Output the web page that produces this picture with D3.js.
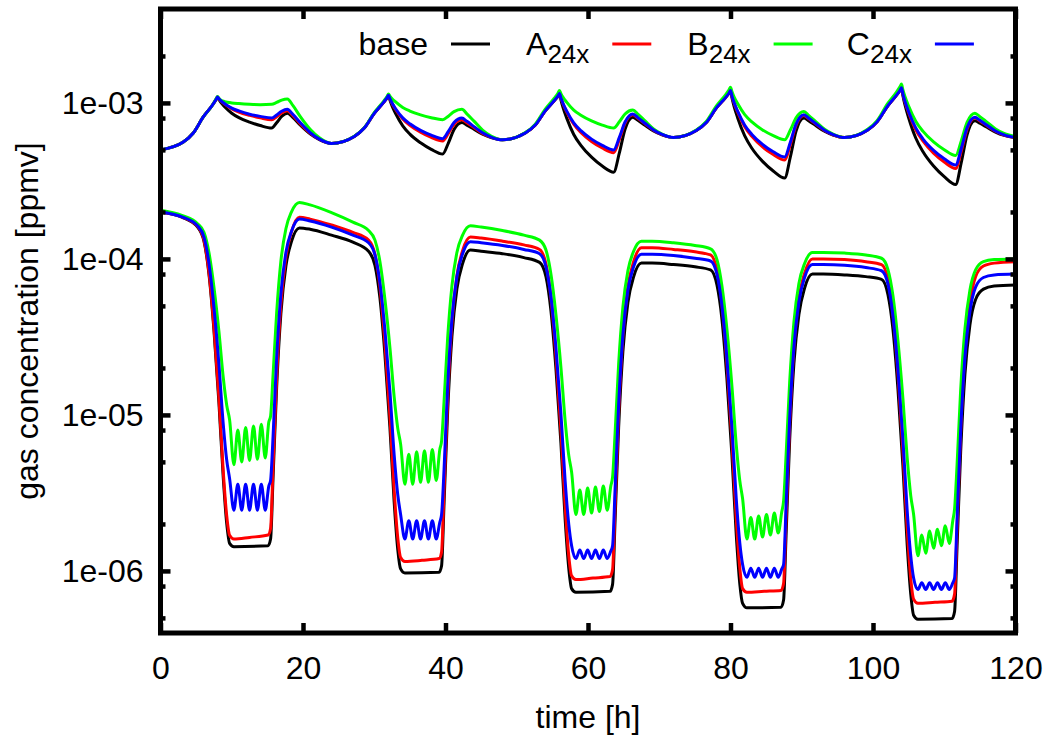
<!DOCTYPE html>
<html><head><meta charset="utf-8">
<script src="https://cdn.jsdelivr.net/npm/d3@7"></script>
<style>body{margin:0;background:#fff}svg{display:block}</style>
</head><body>
<svg id="chart" width="1050" height="736"></svg>
<script>
// ---------- data ----------
const legendNames = ["base", "A", "B", "C"];
const legendSubs = ["", "24x", "24x", "24x"];
const xTickValues = [0, 20, 40, 60, 80, 100, 120];
const yTickValues = [1e-6, 1e-5, 1e-4, 1e-3];
const yTickLabels = ["1e-06", "1e-05", "1e-04", "1e-03"];
const yMinorMantissas = [2, 5, 8];

// upper group (around 1e-3)
const baseUp = [[0,5.0e-4],[3.2,5.61e-4],[4.6,6.41e-4],[6.0,8.13e-4],[7.3,9.7e-4],[7.8,1.052e-3],[8.0,1.09e-3],[8.2,1.051e-3],[8.5,1.003e-3],[9.0,9.46e-4],[10.0,8.59e-4],[11.0,8.05e-4],[12.5,7.53e-4],[14.0,7.16e-4],[15.6,6.9e-4],[16.3,7.46e-4],[17.0,8.2e-4],[17.8,8.6e-4],[18.6,8.05e-4],[19.6,7.23e-4],[21.0,6.34e-4],[22.3,5.82e-4],
[24,5.5e-4],[27.2,6.1e-4],[28.6,6.9e-4],[30.0,8.57e-4],[31.3,1.007e-3],[31.8,1.081e-3],[32.0,1.12e-3],[32.2,1.044e-3],[32.5,9.57e-4],[33.0,8.55e-4],[34.0,7.13e-4],[35.0,6.31e-4],[36.5,5.55e-4],[38.0,5.04e-4],[39.6,4.7e-4],[40.4,5.53e-4],[41.2,6.76e-4],[42.3,7.5e-4],[43.0,7.21e-4],[44.0,6.78e-4],[45.2,6.3e-4],[46.4,6.0e-4],
[48,5.8e-4],[51.2,6.41e-4],[52.6,7.21e-4],[54.0,8.89e-4],[55.3,1.04e-3],[55.8,1.11e-3],[56.0,1.15e-3],[56.2,1.046e-3],[56.5,9.33e-4],[57.0,8.02e-4],[58.0,6.28e-4],[59.0,5.35e-4],[60.5,4.49e-4],[62.0,3.94e-4],[63.6,3.6e-4],[64.4,4.78e-4],[65.2,6.78e-4],[66.3,8.1e-4],[67.0,7.73e-4],[68.0,7.19e-4],[69.2,6.61e-4],[70.4,6.24e-4],
[72,6.0e-4],[75.2,6.65e-4],[76.6,7.48e-4],[78.0,9.25e-4],[79.3,1.082e-3],[79.8,1.158e-3],[80.0,1.2e-3],[80.2,1.081e-3],[80.5,9.51e-4],[81.0,8.04e-4],[82.0,6.14e-4],[83.0,5.12e-4],[84.5,4.22e-4],[86.0,3.66e-4],[87.6,3.3e-4],[88.4,4.5e-4],[89.2,6.59e-4],[90.3,8.0e-4],[91.0,7.66e-4],[92.0,7.14e-4],[93.2,6.58e-4],[94.4,6.22e-4],
[96,6.0e-4],[99.2,6.68e-4],[100.6,7.59e-4],[102.0,9.48e-4],[103.3,1.122e-3],[103.8,1.206e-3],[104.0,1.25e-3],[104.2,1.114e-3],[104.5,9.66e-4],[105.0,8.04e-4],[106.0,5.96e-4],[107.0,4.88e-4],[108.5,3.94e-4],[110.0,3.37e-4],[111.6,3.0e-4],[112.4,4.17e-4],[113.2,6.25e-4],[114.3,7.7e-4],[115.0,7.41e-4],[116.0,6.98e-4],[117.2,6.5e-4],[118.4,6.19e-4],[120,6.0e-4]];

const aUp = [[0,5.0e-4],[3.2,5.61e-4],[4.6,6.41e-4],[6.0,8.13e-4],[7.3,9.7e-4],[7.8,1.052e-3],[8.0,1.09e-3],[8.2,1.061e-3],[8.5,1.026e-3],[9.0,9.82e-4],[10.0,9.16e-4],[11.0,8.73e-4],[12.5,8.32e-4],[14.0,8.02e-4],[15.6,7.8e-4],[16.3,8.16e-4],[17.0,8.63e-4],[17.8,8.9e-4],[18.6,8.28e-4],[19.6,7.36e-4],[21.0,6.41e-4],[22.3,5.85e-4],
[24,5.5e-4],[27.2,6.1e-4],[28.6,6.9e-4],[30.0,8.57e-4],[31.3,1.007e-3],[31.8,1.081e-3],[32.0,1.12e-3],[32.2,1.061e-3],[32.5,9.91e-4],[33.0,9.08e-4],[34.0,7.88e-4],[35.0,7.18e-4],[36.5,6.49e-4],[38.0,6.01e-4],[39.6,5.7e-4],[40.4,6.37e-4],[41.2,7.28e-4],[42.3,7.8e-4],[43.0,7.46e-4],[44.0,6.95e-4],[45.2,6.37e-4],[46.4,6.03e-4],
[48,5.8e-4],[51.2,6.41e-4],[52.6,7.21e-4],[54.0,8.89e-4],[55.3,1.04e-3],[55.8,1.11e-3],[56.0,1.15e-3],[56.2,1.072e-3],[56.5,9.84e-4],[57.0,8.77e-4],[58.0,7.3e-4],[59.0,6.46e-4],[60.5,5.66e-4],[62.0,5.14e-4],[63.6,4.8e-4],[64.4,5.83e-4],[65.2,7.43e-4],[66.3,8.4e-4],[67.0,7.98e-4],[68.0,7.36e-4],[69.2,6.68e-4],[70.4,6.27e-4],
[72,6.0e-4],[75.2,6.65e-4],[76.6,7.48e-4],[78.0,9.25e-4],[79.3,1.082e-3],[79.8,1.158e-3],[80.0,1.2e-3],[80.2,1.104e-3],[80.5,9.98e-4],[81.0,8.73e-4],[82.0,7.03e-4],[83.0,6.1e-4],[84.5,5.22e-4],[86.0,4.67e-4],[87.6,4.3e-4],[88.4,5.41e-4],[89.2,7.18e-4],[90.3,8.3e-4],[91.0,7.91e-4],[92.0,7.31e-4],[93.2,6.65e-4],[94.4,6.25e-4],
[96,6.0e-4],[99.2,6.68e-4],[100.6,7.59e-4],[102.0,9.48e-4],[103.3,1.122e-3],[103.8,1.206e-3],[104.0,1.25e-3],[104.2,1.135e-3],[104.5,1.009e-3],[105.0,8.65e-4],[106.0,6.73e-4],[107.0,5.7e-4],[108.5,4.76e-4],[110.0,4.18e-4],[111.6,3.8e-4],[112.4,4.93e-4],[113.2,6.79e-4],[114.3,8.0e-4],[115.0,7.66e-4],[116.0,7.14e-4],[117.2,6.58e-4],[118.4,6.22e-4],[120,6.0e-4]];

const bUp = [[0,5.0e-4],[3.2,5.61e-4],[4.6,6.41e-4],[6.0,8.13e-4],[7.3,9.7e-4],[7.8,1.062e-3],[8.0,1.10e-3],[8.2,1.07e-3],[8.5,1.04e-3],[9.0,1.02e-3],[10.0,1.0e-3],[11.0,9.9e-4],[12.5,9.8e-4],[14.0,9.75e-4],[15.6,9.8e-4],[16.3,1.007e-3],[17.0,1.042e-3],[17.8,1.06e-3],[18.6,9.6e-4],[19.6,8.2e-4],[21.0,6.78e-4],[22.3,5.98e-4],
[24,5.5e-4],[27.2,6.12e-4],[28.6,6.93e-4],[30.0,8.67e-4],[31.3,1.023e-3],[31.8,1.10e-3],[32.0,1.14e-3],[32.2,1.106e-3],[32.5,1.065e-3],[33.0,1.014e-3],[34.0,9.35e-4],[35.0,8.87e-4],[36.5,8.38e-4],[38.0,8.04e-4],[39.6,7.8e-4],[40.4,8.22e-4],[41.2,8.79e-4],[42.3,9.1e-4],[43.0,8.51e-4],[44.0,7.64e-4],[45.2,6.7e-4],[46.4,6.14e-4],
[48,5.8e-4],[51.2,6.45e-4],[52.6,7.31e-4],[54.0,9.12e-4],[55.3,1.076e-3],[55.8,1.158e-3],[56.0,1.2e-3],[56.2,1.147e-3],[56.5,1.086e-3],[57.0,1.012e-3],[58.0,8.99e-4],[59.0,8.34e-4],[60.5,7.67e-4],[62.0,7.21e-4],[63.6,6.9e-4],[64.4,7.57e-4],[65.2,8.49e-4],[66.3,9.0e-4],[67.0,8.47e-4],[68.0,7.67e-4],[69.2,6.82e-4],[70.4,6.32e-4],
[72,6.0e-4],[75.2,6.7e-4],[76.6,7.6e-4],[78.0,9.53e-4],[79.3,1.127e-3],[79.8,1.216e-3],[80.0,1.26e-3],[80.2,1.183e-3],[80.5,1.094e-3],[81.0,9.91e-4],[82.0,8.41e-4],[83.0,7.55e-4],[84.5,6.71e-4],[86.0,6.17e-4],[87.6,5.8e-4],[88.4,6.7e-4],[89.2,8.02e-4],[90.3,8.8e-4],[91.0,8.3e-4],[92.0,7.57e-4],[93.2,6.78e-4],[94.4,6.31e-4],
[96,6.0e-4],[99.2,6.75e-4],[100.6,7.73e-4],[102.0,9.82e-4],[103.3,1.175e-3],[103.8,1.274e-3],[104.0,1.32e-3],[104.2,1.212e-3],[104.5,1.094e-3],[105.0,9.53e-4],[106.0,7.64e-4],[107.0,6.59e-4],[108.5,5.62e-4],[110.0,5.01e-4],[111.6,4.6e-4],[112.4,5.73e-4],[113.2,7.5e-4],[114.3,8.6e-4],[115.0,8.17e-4],[116.0,7.52e-4],[117.2,6.81e-4],[118.4,6.37e-4],[120,6.1e-4]];

const cUp = [[0,5.0e-4],[3.2,5.61e-4],[4.6,6.41e-4],[6.0,8.13e-4],[7.3,9.7e-4],[7.8,1.052e-3],[8.0,1.09e-3],[8.2,1.063e-3],[8.5,1.03e-3],[9.0,9.89e-4],[10.0,9.27e-4],[11.0,8.89e-4],[12.5,8.47e-4],[14.0,8.2e-4],[15.6,8.0e-4],[16.3,8.38e-4],[17.0,8.85e-4],[17.8,9.1e-4],[18.6,8.43e-4],[19.6,7.48e-4],[21.0,6.46e-4],[22.3,5.86e-4],
[24,5.5e-4],[27.2,6.1e-4],[28.6,6.9e-4],[30.0,8.57e-4],[31.3,1.007e-3],[31.8,1.081e-3],[32.0,1.12e-3],[32.2,1.064e-3],[32.5,9.98e-4],[33.0,9.18e-4],[34.0,8.02e-4],[35.0,7.35e-4],[36.5,6.67e-4],[38.0,6.21e-4],[39.6,5.9e-4],[40.4,6.56e-4],[41.2,7.48e-4],[42.3,8.0e-4],[43.0,7.62e-4],[44.0,7.05e-4],[45.2,6.43e-4],[46.4,6.04e-4],
[48,5.8e-4],[51.2,6.41e-4],[52.6,7.21e-4],[54.0,8.89e-4],[55.3,1.04e-3],[55.8,1.11e-3],[56.0,1.15e-3],[56.2,1.075e-3],[56.5,9.91e-4],[57.0,8.89e-4],[58.0,7.46e-4],[59.0,6.64e-4],[60.5,5.86e-4],[62.0,5.35e-4],[63.6,5.0e-4],[64.4,6.01e-4],[65.2,7.55e-4],[66.3,8.5e-4],[67.0,8.05e-4],[68.0,7.41e-4],[69.2,6.7e-4],[70.4,6.28e-4],
[72,6.0e-4],[75.2,6.65e-4],[76.6,7.48e-4],[78.0,9.25e-4],[79.3,1.082e-3],[79.8,1.158e-3],[80.0,1.2e-3],[80.2,1.109e-3],[80.5,1.005e-3],[81.0,8.85e-4],[82.0,7.19e-4],[83.0,6.28e-4],[84.5,5.42e-4],[86.0,4.86e-4],[87.6,4.5e-4],[88.4,5.6e-4],[89.2,7.31e-4],[90.3,8.4e-4],[91.0,7.98e-4],[92.0,7.36e-4],[93.2,6.68e-4],[94.4,6.27e-4],
[96,6.0e-4],[99.2,6.68e-4],[100.6,7.59e-4],[102.0,9.48e-4],[103.3,1.122e-3],[103.8,1.206e-3],[104.0,1.25e-3],[104.2,1.14e-3],[104.5,1.019e-3],[105.0,8.79e-4],[106.0,6.92e-4],[107.0,5.89e-4],[108.5,4.97e-4],[110.0,4.39e-4],[111.6,4.0e-4],[112.4,5.12e-4],[113.2,6.93e-4],[114.3,8.1e-4],[115.0,7.73e-4],[116.0,7.19e-4],[117.2,6.61e-4],[118.4,6.24e-4],[120,6.0e-4]];

// lower group (around 1e-4 ... 1e-6)
const baseLow = [[0,2.0e-4],[3,1.85e-4],[5.2,1.6e-4],[6.1,1.3e-4],[6.8,8.0e-5],[7.5,3.5e-5],[8.2,1.2e-5],[8.8,4.0e-6],[9.3,2.0e-6],[9.7,1.5e-6],[10.3,1.43e-6],[15.1,1.45e-6],
[15.45,1.6e-6],[15.8,4.0e-6],[16.3,1.5e-5],[16.9,4.5e-5],[17.6,9.0e-5],[18.4,1.3e-4],[19.5,1.58e-4],[21,1.55e-4],[24,1.42e-4],[27,1.28e-4],[29.2,1.12e-4],
[30.1,9.1e-5],[30.8,5.6e-5],[31.5,2.43e-5],[32.2,8.3e-6],[32.8,2.75e-6],[33.3,1.37e-6],[33.7,1.03e-6],[34.3,9.7e-7],[39.1,9.8e-7],
[39.45,1.08e-6],[39.8,2.74e-6],[40.3,1.05e-5],[40.9,3.18e-5],[41.6,6.44e-5],[42.4,9.33e-5],[43.5,1.14e-4],[45,1.12e-4],[48,1.08e-4],[51,1.02e-4],[53.2,9.5e-5],
[54.1,7.7e-5],[54.8,4.65e-5],[55.5,1.98e-5],[56.2,6.6e-6],[56.8,2.12e-6],[57.3,1.04e-6],[57.7,7.7e-7],[58.3,7.3e-7],[63.1,7.4e-7],
[63.45,8.2e-7],[63.8,2.11e-6],[64.3,8.3e-6],[64.9,2.56e-5],[65.6,5.25e-5],[66.4,7.67e-5],[67.5,9.4e-5],[69,9.4e-5],[72,9.2e-5],[75,8.9e-5],[77.2,8.5e-5],
[78.1,6.8e-5],[78.8,4.1e-5],[79.5,1.7e-5],[80.2,5.5e-6],[80.8,1.73e-6],[81.3,8.3e-7],[81.7,6.2e-7],[82.3,5.8e-7],[87.1,5.85e-7],
[87.45,6.5e-7],[87.8,1.69e-6],[88.3,6.8e-6],[88.9,2.14e-5],[89.6,4.4e-5],[90.4,6.5e-5],[91.5,8.0e-5],[93,8.0e-5],[96,7.9e-5],[99,7.7e-5],[101.2,7.4e-5],
[102.1,5.9e-5],[102.8,3.54e-5],[103.5,1.47e-5],[104.2,4.7e-6],[104.8,1.47e-6],[105.3,7.1e-7],[105.7,5.2e-7],[106.3,4.9e-7],[111.1,4.95e-7],
[111.45,5.5e-7],[111.8,1.44e-6],[112.3,5.75e-6],[112.9,1.82e-5],[113.6,3.77e-5],[114.4,5.5e-5],[115.5,6.4e-5],[117,6.7e-5],[120,6.8e-5]];

const aLow = [[0,2.0e-4],[3,1.86e-4],[5.2,1.62e-4],[6.1,1.32e-4],[6.8,8.2e-5],[7.5,3.66e-5],[8.2,1.29e-5],[8.8,4.4e-6],[9.3,2.24e-6],[9.7,1.69e-6],[10.3,1.6e-6],[12.5,1.64e-6],[15.1,1.7e-6],
[15.45,1.87e-6],[15.8,4.65e-6],[16.3,1.73e-5],[16.9,5.15e-5],[17.6,1.03e-4],[18.4,1.5e-4],[19.5,1.85e-4],[21,1.8e-4],[24,1.65e-4],[27,1.48e-4],[29.2,1.32e-4],
[30.1,1.07e-4],[30.8,6.6e-5],[31.5,2.87e-5],[32.2,9.8e-6],[32.8,3.25e-6],[33.3,1.63e-6],[33.7,1.22e-6],[34.3,1.15e-6],[36.7,1.17e-6],[39.1,1.2e-6],
[39.45,1.32e-6],[39.8,3.34e-6],[40.3,1.27e-5],[40.9,3.87e-5],[41.6,7.8e-5],[42.4,1.13e-4],[43.5,1.38e-4],[45,1.36e-4],[48,1.3e-4],[51,1.23e-4],[53.2,1.15e-4],
[54.1,9.3e-5],[54.8,5.6e-5],[55.5,2.39e-5],[56.2,7.96e-6],[56.8,2.56e-6],[57.3,1.25e-6],[57.7,9.3e-7],[58.3,8.8e-7],[60.7,9.0e-7],[63.1,9.2e-7],
[63.45,1.02e-6],[63.8,2.62e-6],[64.3,1.03e-5],[64.9,3.21e-5],[65.6,6.6e-5],[66.4,9.6e-5],[67.5,1.18e-4],[69,1.18e-4],[72,1.15e-4],[75,1.11e-4],[77.2,1.06e-4],
[78.1,8.5e-5],[78.8,5.1e-5],[79.5,2.13e-5],[80.2,6.9e-6],[80.8,2.17e-6],[81.3,1.05e-6],[81.7,7.7e-7],[82.3,7.3e-7],[84.7,7.4e-7],[87.1,7.5e-7],
[87.45,8.3e-7],[87.8,2.16e-6],[88.3,8.6e-6],[88.9,2.7e-5],[89.6,5.6e-5],[90.4,8.1e-5],[91.5,1.0e-4],[93,1.0e-4],[96,9.9e-5],[99,9.6e-5],[101.2,9.2e-5],
[102.1,7.4e-5],[102.8,4.42e-5],[103.5,1.84e-5],[104.2,5.9e-6],[104.8,1.85e-6],[105.3,8.9e-7],[105.7,6.6e-7],[106.3,6.2e-7],[108.7,6.3e-7],[111.1,6.4e-7],
[111.45,7.1e-7],[111.8,1.88e-6],[112.3,7.7e-6],[112.9,2.49e-5],[113.6,5.2e-5],[114.4,7.7e-5],[115.5,9.0e-5],[117,9.4e-5],[120,9.6e-5]];

const bLow = [[0,2.05e-4],[3,1.9e-4],[5.2,1.68e-4],[6.1,1.48e-4],[6.8,1.1e-4],[7.5,6.6e-5],[8.2,3.43e-5],[8.8,1.75e-5],[9.3,1.15e-5],[9.7,9.3e-6],
[10.3,4.8e-6],[10.85,8.0e-6],[11.4,5.0e-6],[11.95,8.3e-6],[12.5,5.1e-6],[13.05,8.5e-6],[13.6,5.2e-6],[14.15,8.7e-6],[14.7,5.3e-6],[15.2,9.0e-6],
[15.45,9.8e-6],[15.8,1.81e-5],[16.3,4.5e-5],[16.9,9.7e-5],[17.6,1.56e-4],[18.4,2.01e-4],[19.5,2.3e-4],[21,2.22e-4],[24,1.98e-4],[27,1.72e-4],[29.2,1.52e-4],
[30.1,1.32e-4],[30.8,9.6e-5],[31.5,5.5e-5],[32.2,2.7e-5],[32.8,1.3e-5],[33.3,8.2e-6],[33.7,6.5e-6],
[34.3,3.6e-6],[34.85,5.6e-6],[35.4,3.6e-6],[35.95,5.8e-6],[36.5,3.7e-6],[37.05,5.9e-6],[37.6,3.7e-6],[38.15,6.0e-6],[38.7,3.8e-6],[39.2,6.0e-6],
[39.45,6.8e-6],[39.8,1.22e-5],[40.3,3.1e-5],[40.9,6.7e-5],[41.6,1.1e-4],[42.4,1.42e-4],[43.5,1.63e-4],[45,1.6e-4],[48,1.52e-4],[51,1.42e-4],[53.2,1.32e-4],
[54.1,1.14e-4],[54.8,7.98e-5],[55.5,4.39e-5],[56.2,2.02e-5],[56.8,9.1e-6],[57.3,5.5e-6],[57.7,4.3e-6],
[58.3,2.3e-6],[58.85,3.3e-6],[59.4,2.3e-6],[59.95,3.4e-6],[60.5,2.35e-6],[61.05,3.45e-6],[61.6,2.4e-6],[62.15,3.5e-6],[62.7,2.45e-6],[63.2,3.5e-6],
[63.45,4.0e-6],[63.8,7.6e-6],[64.3,2.12e-5],[64.9,4.93e-5],[65.6,8.4e-5],[66.4,1.12e-4],[67.5,1.3e-4],[69,1.3e-4],[72,1.27e-4],[75,1.22e-4],[77.2,1.16e-4],
[78.1,9.9e-5],[78.8,6.7e-5],[79.5,3.53e-5],[80.2,1.53e-5],[80.8,6.5e-6],[81.3,3.8e-6],[81.7,2.9e-6],
[82.3,1.6e-6],[82.85,2.2e-6],[83.4,1.6e-6],[83.95,2.25e-6],[84.5,1.65e-6],[85.05,2.3e-6],[85.6,1.7e-6],[86.15,2.35e-6],[86.7,1.75e-6],[87.2,2.4e-6],
[87.45,2.8e-6],[87.8,5.5e-6],[88.3,1.61e-5],[88.9,3.94e-5],[89.6,6.95e-5],[90.4,9.35e-5],[91.5,1.1e-4],[93,1.1e-4],[96,1.09e-4],[99,1.06e-4],[101.2,1.01e-4],
[102.1,8.55e-5],[102.8,5.8e-5],[103.5,2.99e-5],[104.2,1.27e-5],[104.8,5.3e-6],[105.3,3.03e-6],[105.7,2.3e-6],
[106.3,1.25e-6],[106.85,1.7e-6],[107.4,1.3e-6],[107.95,1.8e-6],[108.5,1.4e-6],[109.05,1.85e-6],[109.6,1.45e-6],[110.15,1.95e-6],[110.7,1.5e-6],[111.2,2.1e-6],
[111.45,2.5e-6],[111.8,4.8e-6],[112.3,1.44e-5],[112.9,3.55e-5],[113.6,6.3e-5],[114.4,8.5e-5],[115.5,9.6e-5],[117,9.9e-5],[120,1.0e-4]];

const cLow = [[0,2.0e-4],[3,1.86e-4],[5.2,1.63e-4],[6.1,1.38e-4],[6.8,9.4e-5],[7.5,4.9e-5],[8.2,2.11e-5],[8.8,8.8e-6],[9.3,5.1e-6],[9.7,3.9e-6],
[10.3,2.45e-6],[10.85,3.6e-6],[11.4,2.45e-6],[11.95,3.6e-6],[12.5,2.45e-6],[13.05,3.6e-6],[13.6,2.45e-6],[14.15,3.6e-6],[14.7,2.45e-6],[15.2,3.5e-6],
[15.45,3.8e-6],[15.8,7.3e-6],[16.3,2.3e-5],[16.9,6.0e-5],[17.6,1.1e-4],[18.4,1.51e-4],[19.5,1.8e-4],[21,1.75e-4],[24,1.6e-4],[27,1.42e-4],[29.2,1.27e-4],
[30.1,1.06e-4],[30.8,7.0e-5],[31.5,3.49e-5],[32.2,1.41e-5],[32.8,5.5e-6],[33.3,3.08e-6],[33.7,2.3e-6],
[34.3,1.6e-6],[34.85,2.1e-6],[35.4,1.6e-6],[35.95,2.1e-6],[36.5,1.6e-6],[37.05,2.1e-6],[37.6,1.6e-6],[38.15,2.1e-6],[38.7,1.6e-6],[39.2,2.05e-6],
[39.45,2.3e-6],[39.8,4.5e-6],[40.3,1.51e-5],[40.9,4.1e-5],[41.6,7.7e-5],[42.4,1.08e-4],[43.5,1.29e-4],[45,1.27e-4],[48,1.22e-4],[51,1.15e-4],[53.2,1.08e-4],
[54.1,8.9e-5],[54.8,5.7e-5],[55.5,2.69e-5],[56.2,1.02e-5],[56.8,3.72e-6],[57.3,1.99e-6],[57.7,1.45e-6],
[58.3,1.2e-6],[58.85,1.36e-6],[59.4,1.2e-6],[59.95,1.36e-6],[60.5,1.2e-6],[61.05,1.36e-6],[61.6,1.2e-6],[62.15,1.36e-6],[62.7,1.2e-6],[63.2,1.34e-6],
[63.45,1.45e-6],[63.8,3.33e-6],[64.3,1.16e-5],[64.9,3.27e-5],[65.6,6.3e-5],[66.4,8.9e-5],[67.5,1.07e-4],[69,1.07e-4],[72,1.05e-4],[75,1.01e-4],[77.2,9.7e-5],
[78.1,7.97e-5],[78.8,5.0e-5],[79.5,2.29e-5],[80.2,8.3e-6],[80.8,2.93e-6],[81.3,1.52e-6],[81.7,1.1e-6],
[82.3,9.1e-7],[82.85,1.04e-6],[83.4,9.1e-7],[83.95,1.04e-6],[84.5,9.1e-7],[85.05,1.04e-6],[85.6,9.1e-7],[86.15,1.04e-6],[86.7,9.1e-7],[87.2,1.03e-6],
[87.45,1.1e-6],[87.8,2.6e-6],[88.3,9.4e-6],[88.9,2.72e-5],[89.6,5.3e-5],[90.4,7.6e-5],[91.5,9.2e-5],[93,9.2e-5],[96,9.1e-5],[99,8.8e-5],[101.2,8.4e-5],
[102.1,6.9e-5],[102.8,4.3e-5],[103.5,1.95e-5],[104.2,6.98e-6],[104.8,2.43e-6],[105.3,1.25e-6],[105.7,9.0e-7],
[106.3,7.6e-7],[106.85,8.4e-7],[107.4,7.6e-7],[107.95,8.4e-7],[108.5,7.6e-7],[109.05,8.4e-7],[109.6,7.6e-7],[110.15,8.4e-7],[110.7,7.6e-7],[111.2,8.4e-7],
[111.45,9.0e-7],[111.8,2.16e-6],[112.3,7.9e-6],[112.9,2.33e-5],[113.6,4.6e-5],[114.4,6.6e-5],[115.5,7.6e-5],[117,7.9e-5],[120,8.0e-5]];

// ---------- drawing ----------
const colors = ["#000000", "#ff0000", "#00ff00", "#0000ff"];
const seriesUp = [baseUp, aUp, bUp, cUp];
const seriesLow = [baseLow, aLow, bLow, cLow];

const FONT = "'Liberation Sans', Arial, Helvetica, sans-serif";
const FS = 32;
const pL = 160.5, pR = 1015.5, pT = 9, pB = 633;

const svg = d3.select("#chart");
const x = d3.scaleLinear().domain([0, 120]).range([pL, pR]);
const y = d3.scaleLog().domain([4e-7, 4e-3]).range([pB, pT]);

svg.append("defs").append("clipPath").attr("id", "clip")
  .append("rect").attr("x", pL).attr("y", pT).attr("width", pR - pL).attr("height", pB - pT);

const line = d3.line().x(d => x(d[0])).y(d => y(d[1])).curve(d3.curveMonotoneX);

const plot = svg.append("g").attr("clip-path", "url(#clip)");
for (let i = 0; i < 4; i++) {
  [seriesUp[i], seriesLow[i]].forEach(s => {
    plot.append("path").datum(s).attr("d", line)
      .attr("fill", "none").attr("stroke", colors[i]).attr("stroke-width", 3)
      .attr("stroke-linejoin", "round");
  });
}

// minor y ticks
const yMinor = [];
for (let e = -7; e <= -3; e++) yMinorMantissas.forEach(m => { const v = m * Math.pow(10, e); if (v > 4e-7 && v < 4e-3) yMinor.push(v); });

function styleAxis(g) {
  g.select(".domain").remove();
  g.selectAll(".tick line").attr("stroke", "#000").attr("stroke-width", 4.5);
  g.selectAll(".tick text").attr("fill", "#000").attr("font-family", FONT).attr("font-size", FS);
}

svg.append("g").attr("transform", `translate(0,${pB})`)
  .call(d3.axisBottom(x).tickValues(xTickValues).tickSize(-10).tickPadding(23).tickFormat(d3.format("d")))
  .call(styleAxis);
svg.append("g").attr("transform", `translate(0,${pT})`)
  .call(d3.axisTop(x).tickValues(xTickValues).tickSize(-10).tickFormat(""))
  .call(styleAxis);
svg.append("g").attr("transform", `translate(${pL},0)`)
  .call(d3.axisLeft(y).tickValues(yTickValues).tickSize(-10).tickPadding(17).tickFormat((d, i) => yTickLabels[i]))
  .call(styleAxis);
svg.append("g").attr("transform", `translate(${pL},0)`)
  .call(d3.axisLeft(y).tickValues(yMinor).tickSize(-5).tickFormat(""))
  .call(styleAxis);
svg.append("g").attr("transform", `translate(${pR},0)`)
  .call(d3.axisRight(y).tickValues(yTickValues).tickSize(-10).tickFormat(""))
  .call(styleAxis);
svg.append("g").attr("transform", `translate(${pR},0)`)
  .call(d3.axisRight(y).tickValues(yMinor).tickSize(-5).tickFormat(""))
  .call(styleAxis);

// frame
svg.append("rect").attr("x", pL).attr("y", pT).attr("width", pR - pL).attr("height", pB - pT)
  .attr("fill", "none").attr("stroke", "#000").attr("stroke-width", 5);

// axis titles
svg.append("text").attr("x", (pL + pR) / 2).attr("y", 728).attr("text-anchor", "middle")
  .attr("font-family", FONT).attr("font-size", FS).text("time [h]");
svg.append("text").attr("transform", `translate(38,${(pT + pB) / 2}) rotate(-90)`).attr("text-anchor", "middle")
  .attr("font-family", FONT).attr("font-size", FS).text("gas concentration [ppmv]");

// legend
const legend = svg.append("g");
legendNames.forEach((name, i) => {
  const lx = 451 + i * 161.3;
  const t = legend.append("text").attr("x", lx - 23).attr("y", 55).attr("text-anchor", "end")
    .attr("font-family", FONT).attr("font-size", FS);
  t.append("tspan").text(name);
  if (legendSubs[i]) t.append("tspan").attr("dy", 8).attr("font-size", 26).text(legendSubs[i]);
  legend.append("line").attr("x1", lx).attr("x2", lx + 39).attr("y1", 44).attr("y2", 44)
    .attr("stroke", colors[i]).attr("stroke-width", 3);
});
</script>
</body></html>
